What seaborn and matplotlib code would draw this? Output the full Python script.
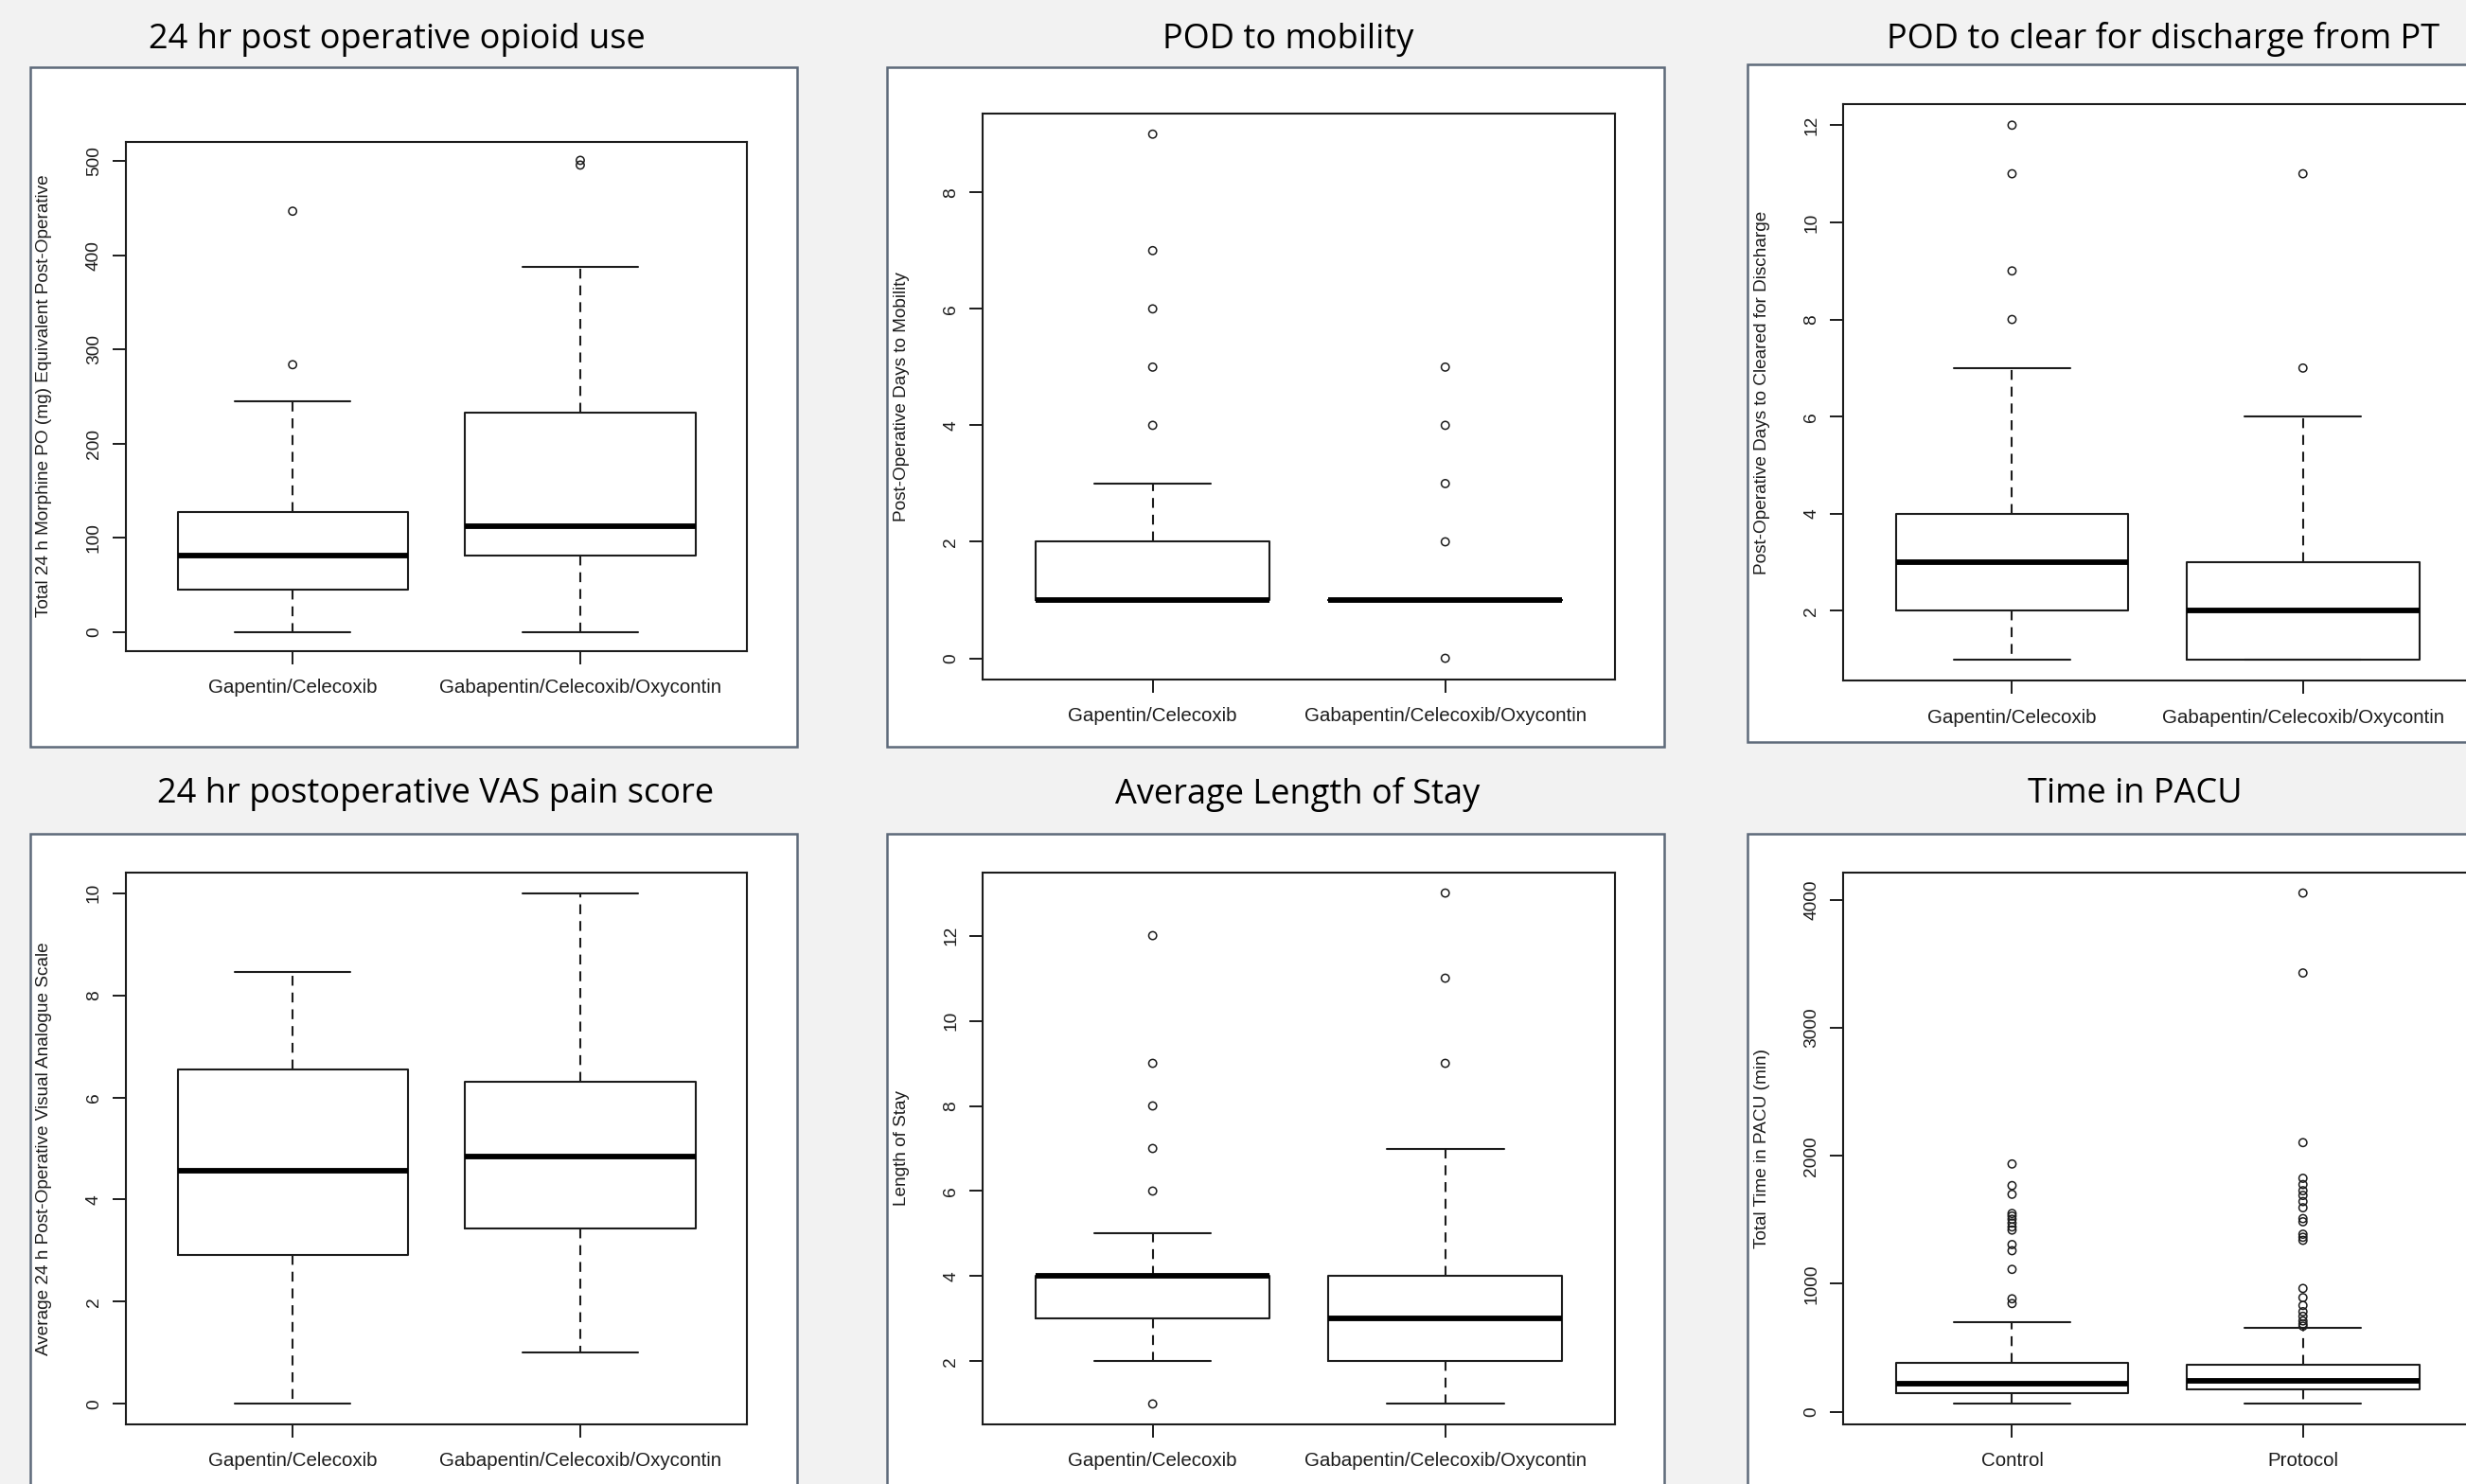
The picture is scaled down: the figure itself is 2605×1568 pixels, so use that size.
import matplotlib
matplotlib.use("Agg")
import matplotlib.pyplot as plt
import matplotlib.patches as mpatches
import seaborn as sns

# ── Data ──────────────────────────────────────────────────────────────────────
DRUG_GROUPS = ["Gapentin/Celecoxib", "Gabapentin/Celecoxib/Oxycontin"]
PACU_GROUPS = ["Control", "Protocol"]

# 24 hr post operative opioid use
opioid_whislo = [0, 0]
opioid_q1 = [45, 81]
opioid_med = [81, 112]
opioid_q3 = [128, 233]
opioid_whishi = [245, 388]
opioid_fliers = [[284, 447], [496, 501]]

# POD to mobility
mobility_whislo = [1, 1]
mobility_q1 = [1, 1]
mobility_med = [1, 1]
mobility_q3 = [2, 1]
mobility_whishi = [3, 1]
mobility_fliers = [[4, 5, 6, 7, 9], [0, 2, 3, 4, 5]]

# POD to clear for discharge from PT
discharge_whislo = [1, 1]
discharge_q1 = [2, 1]
discharge_med = [3, 2]
discharge_q3 = [4, 3]
discharge_whishi = [7, 6]
discharge_fliers = [[8, 9, 11, 12], [7, 11]]

# 24 hr postoperative VAS pain score
vas_whislo = [0, 1.0]
vas_q1 = [2.92, 3.44]
vas_med = [4.57, 4.85]
vas_q3 = [6.54, 6.30]
vas_whishi = [8.45, 10]
vas_fliers = [[], []]

# Average Length of Stay
los_whislo = [2, 1]
los_q1 = [3, 2]
los_med = [4, 3]
los_q3 = [4, 4]
los_whishi = [5, 7]
los_fliers = [[1, 6, 7, 8, 9, 12], [9, 11, 13]]

# Time in PACU
pacu_whislo = [61, 61]
pacu_q1 = [147, 172]
pacu_med = [219, 244]
pacu_q3 = [381, 370]
pacu_whishi = [701, 654]
pacu_fliers = [
    [846, 883, 1113, 1259, 1307, 1420, 1445, 1475, 1505, 1530, 1550, 1700, 1768, 1937],
    [669, 686, 710, 746, 782, 831, 892, 964, 1340, 1364, 1388, 1485, 1510, 1595,
     1643, 1691, 1728, 1776, 1825, 2104, 3430, 4055],
]

# ── Style ─────────────────────────────────────────────────────────────────────
sns.set_theme(style="white")
plt.rcParams["font.family"] = ["Liberation Sans", "DejaVu Sans"]
TITLE_FONT = ["Open Sans", "DejaVu Sans"]
BG = "#F2F2F2"
PANEL_EDGE = "#5E6A7A"
INK = "#1C1C1C"

W, H = 2605, 1568


def frac(x0, y0, x1, y1):
    """pixel box (top-left origin) -> figure fraction rect"""
    return [x0 / W, 1 - y1 / H, (x1 - x0) / W, (y1 - y0) / H]


def draw_box(fig, panel, axes_px, title, title_xy, groups, stats, fliers,
             yticks, ylabel):
    # white card behind the chart
    px, py, pw, ph = frac(*panel)
    fig.patches.append(mpatches.Rectangle(
        (px, py), pw, ph, transform=fig.transFigure, facecolor="white",
        edgecolor=PANEL_EDGE, linewidth=1.8, zorder=-5))
    fig.text(title_xy[0] / W, 1 - title_xy[1] / H, title, family=TITLE_FONT,
             fontsize=26, ha="center", va="center", color="black")

    ax = fig.add_axes(frac(*axes_px))
    ax.set_zorder(2)
    ax.set_facecolor("none")
    whislo, q1, med, q3, whishi = stats
    bstats = [dict(whislo=whislo[i], q1=q1[i], med=med[i], q3=q3[i],
                   whishi=whishi[i], fliers=[]) for i in range(len(groups))]
    ax.bxp(bstats, positions=[1, 2], widths=0.8, showfliers=False,
           boxprops=dict(color=INK, linewidth=1.5),
           whiskerprops=dict(color=INK, linewidth=1.5, linestyle=(0, (5, 3.5))),
           capprops=dict(color=INK, linewidth=1.5),
           medianprops=dict(color="black", linewidth=4.2))
    for i, fl in enumerate(fliers):
        if fl:
            sns.scatterplot(x=[i + 1] * len(fl), y=fl, ax=ax, marker="o", s=36,
                            facecolors="none", edgecolors=INK, linewidth=1.1,
                            zorder=3)

    # R-style 4 % padding on the data range
    vals = whislo + whishi + [v for fl in fliers for v in fl]
    lo, hi = min(vals), max(vals)
    pad = 0.04 * (hi - lo)
    ax.set_ylim(lo - pad, hi + pad)
    ax.set_xlim(0.42, 2.58)

    ax.set_xticks([1, 2])
    ax.set_xticklabels(groups, fontsize=14.8, color=INK)
    ax.set_yticks(yticks)
    ax.set_yticklabels([str(t) for t in yticks], fontsize=13.8, color=INK,
                       rotation=90, va="center")
    ax.tick_params(axis="both", length=10, width=1.4, color=INK,
                   bottom=True, left=True)
    ax.tick_params(axis="x", pad=11)
    ax.tick_params(axis="y", pad=8)
    for sp in ax.spines.values():
        sp.set_color(INK)
        sp.set_linewidth(1.5)
    ax.set_xlabel("")
    ax.set_ylabel("")
    # y label centred on the plot frame, 86 px left of it
    x0, y0, x1, y1 = axes_px
    fig.text((x0 - 86) / W, 1 - ((y0 + y1) / 2) / H, ylabel, rotation=90,
             fontsize=13.7, ha="center", va="center", color=INK)
    return ax


fig = plt.figure(figsize=(W / 100, H / 100), dpi=100, facecolor=BG)

draw_box(fig, (31.6, 71.4, 842.3, 789.2), (132.9, 149.5, 789.2, 687.8),
         "24 hr post operative opioid use", (419, 41.5), DRUG_GROUPS,
         (opioid_whislo, opioid_q1, opioid_med, opioid_q3, opioid_whishi),
         opioid_fliers, [0, 100, 200, 300, 400, 500],
         "Total 24 h Morphine PO (mg) Equivalent Post-Operative")

draw_box(fig, (937, 71.4, 1757.8, 789.2), (1038.4, 119.6, 1706, 717.7),
         "POD to mobility", (1360.7, 41.5), DRUG_GROUPS,
         (mobility_whislo, mobility_q1, mobility_med, mobility_q3, mobility_whishi),
         mobility_fliers, [0, 2, 4, 6, 8],
         "Post-Operative Days to Mobility")

draw_box(fig, (1845.8, 68, 2650, 784), (1947.2, 109.7, 2611, 719.4),
         "POD to clear for discharge from PT", (2285, 41.5), DRUG_GROUPS,
         (discharge_whislo, discharge_q1, discharge_med, discharge_q3,
          discharge_whishi),
         discharge_fliers, [2, 4, 6, 8, 10, 12],
         "Post-Operative Days to Cleared for Discharge")

draw_box(fig, (31.6, 880.6, 842.3, 1600), (132.9, 922, 789.2, 1505),
         "24 hr postoperative VAS pain score", (460, 839), DRUG_GROUPS,
         (vas_whislo, vas_q1, vas_med, vas_q3, vas_whishi),
         vas_fliers, [0, 2, 4, 6, 8, 10],
         "Average 24 h Post-Operative Visual Analogue Scale")

draw_box(fig, (937, 880.6, 1757.8, 1600), (1038.4, 922, 1706, 1505),
         "Average Length of Stay", (1370.6, 839), DRUG_GROUPS,
         (los_whislo, los_q1, los_med, los_q3, los_whishi),
         los_fliers, [2, 4, 6, 8, 10, 12],
         "Length of Stay")

draw_box(fig, (1845.8, 880.6, 2650, 1600), (1947.2, 922, 2611, 1505),
         "Time in PACU", (2255, 839), PACU_GROUPS,
         (pacu_whislo, pacu_q1, pacu_med, pacu_q3, pacu_whishi),
         pacu_fliers, [0, 1000, 2000, 3000, 4000],
         "Total Time in PACU (min)")

fig.savefig("out.png", dpi=100, facecolor=BG)
